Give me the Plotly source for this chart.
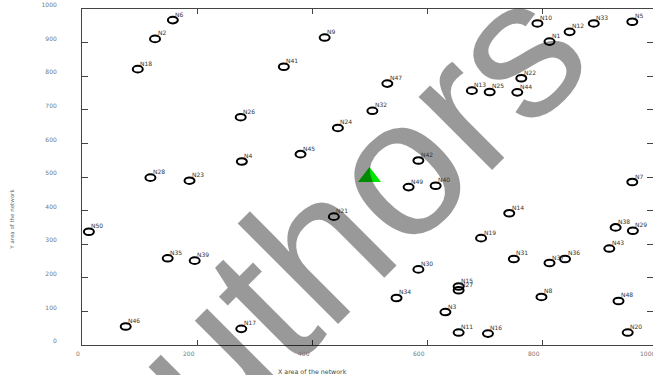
import plotly.graph_objects as go

# Sensor node layout in a 1000 x 1000 field
node_names = [f"N{i}" for i in range(1, 51)]
node_x = [813, 127, 632, 278, 957, 158, 957, 799, 422, 792,
          655, 848, 678, 743, 655, 706, 277, 97, 694, 949,
          438, 764, 187, 445, 709, 276, 655, 119, 958, 585,
          751, 505, 890, 547, 149, 840, 813, 928, 196, 615,
          351, 585, 917, 757, 380, 76, 531, 933, 568, 12]
node_y = [903, 911, 98, 546, 962, 967, 485, 143, 915, 957,
          37, 932, 757, 392, 174, 34, 48, 821, 318, 37,
          382, 794, 489, 646, 753, 678, 163, 498, 340, 225,
          256, 697, 957, 140, 258, 256, 244, 350, 251, 474,
          828, 549, 287, 752, 568, 55, 778, 131, 470, 337]

# Sink (base station)
sink_x = [500]
sink_y = [500]

x_ticks = [0, 200, 400, 600, 800, 1000]
y_ticks = [0, 100, 200, 300, 400, 500, 600, 700, 800, 900, 1000]

x_title = "X area of the network"
y_title = "Y area of the network"
stamp_text = "authors"

X_MAX = 993
AXIS = "#444444"
TICKFONT = dict(family="DejaVu Sans", size=6, color="#777777")

fig = go.Figure()

fig.add_trace(go.Scatter(
    x=sink_x, y=sink_y, mode="markers",
    marker=dict(symbol="triangle-up", size=20, color="#00e600", line=dict(width=0)),
    hoverinfo="skip", showlegend=False,
))

# Nodes: hollow rings anchored at each node position
shapes = []
for x, y in zip(node_x, node_y):
    shapes.append(dict(
        type="circle", xref="x", yref="y",
        xsizemode="pixel", ysizemode="pixel",
        xanchor=x, yanchor=y,
        x0=-5, x1=5, y0=-3.3, y1=3.3,
        line=dict(color="black", width=2),
        fillcolor="rgba(0,0,0,0)",
    ))

annotations = []

# translucent stamp across the plot
annotations.append(dict(
    text=stamp_text, xref="paper", yref="paper", x=0.4149, y=0.2914,
    xanchor="center", yanchor="middle", showarrow=False, textangle=-45,
    font=dict(family="Liberation Sans", size=196, color="rgba(0,0,0,0.4)"),
))

# node labels
for name, x, y in zip(node_names, node_x, node_y):
    annotations.append(dict(
        text=name, x=x, y=y, xref="x", yref="y",
        xanchor="left", yanchor="middle", xshift=0.5, yshift=6,
        showarrow=False, font=dict(family="DejaVu Sans", size=6, color="#333333"),
    ))

# x tick labels (right-aligned to their ticks; the last one sits past the plot edge)
for v in x_ticks:
    annotations.append(dict(
        text=str(v), x=v / X_MAX, y=0, xref="paper", yref="paper",
        xanchor="right", yanchor="middle", xshift=0, yshift=-8,
        showarrow=False, font=TICKFONT,
    ))

annotations.append(dict(
    text=x_title, x=400 / X_MAX, y=0, xref="paper", yref="paper",
    xanchor="center", yanchor="middle", yshift=-26, showarrow=False,
    font=dict(family="DejaVu Sans", size=6.3, color="#444444"),
))
annotations.append(dict(
    text=y_title, x=-0.1231, y=0.375, xref="paper", yref="paper",
    xanchor="center", yanchor="middle", textangle=-90, showarrow=False,
    font=dict(family="DejaVu Sans", size=5.5, color="#666666"),
))

fig.update_layout(
    width=653, height=375,
    margin=dict(l=82, r=0, t=9, b=30, autoexpand=False),
    paper_bgcolor="white", plot_bgcolor="white",
    shapes=shapes, annotations=annotations, showlegend=False,
)

fig.update_xaxes(
    range=[0, X_MAX], tickvals=x_ticks, showticklabels=False,
    showgrid=False, zeroline=False, showline=True, linecolor=AXIS, linewidth=1,
    mirror="ticks", ticks="inside", ticklen=5, tickcolor=AXIS, tickwidth=1,
)
fig.update_yaxes(
    range=[0, 1000], tickvals=y_ticks, tickfont=TICKFONT,
    ticklabelstandoff=23, ticklabelshift=-4,
    showgrid=False, zeroline=False, showline=True, linecolor=AXIS, linewidth=1,
    mirror="ticks", ticks="inside", ticklen=6, tickcolor=AXIS, tickwidth=1,
)

fig.write_html("out.html")
